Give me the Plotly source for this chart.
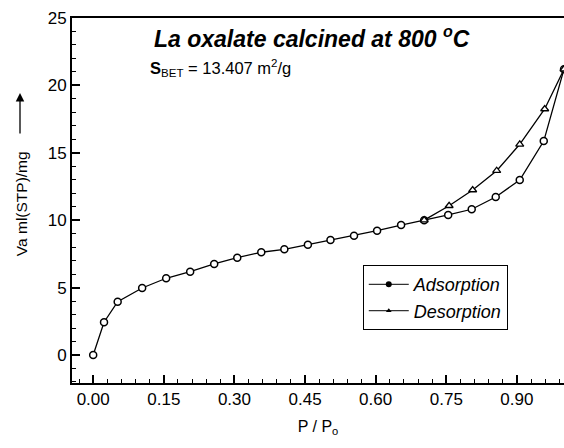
import plotly.graph_objects as go

# Data
ads_x = [0.0, 0.023, 0.052, 0.104, 0.155, 0.206, 0.257, 0.306, 0.357, 0.406,
         0.456, 0.504, 0.554, 0.603, 0.654, 0.703, 0.754, 0.804, 0.855, 0.906,
         0.957, 1.0]
ads_y = [0.0, 2.43, 3.95, 4.97, 5.69, 6.18, 6.75, 7.22, 7.62, 7.84,
         8.18, 8.53, 8.85, 9.22, 9.64, 10.0, 10.39, 10.81, 11.72, 12.98,
         15.87, 21.2]
des_x = [0.703, 0.756, 0.806, 0.857, 0.906, 0.959, 1.0]
des_y = [10.0, 11.07, 12.24, 13.67, 15.63, 18.25, 21.2]

x_ticks = [0.0, 0.15, 0.30, 0.45, 0.60, 0.75, 0.90]
x_labels = ["0.00", "0.15", "0.30", "0.45", "0.60", "0.75", "0.90"]
y_ticks = [0, 5, 10, 15, 20, 25]

FONT = "Arial, Liberation Sans, sans-serif"

fig = go.Figure()
fig.add_trace(go.Scatter(
    x=ads_x, y=ads_y, mode="lines+markers", showlegend=False,
    line=dict(color="black", width=1.3),
    marker=dict(symbol="circle", size=7, color="white",
                line=dict(color="black", width=1.5)),
    cliponaxis=True,
))
fig.add_trace(go.Scatter(
    x=des_x, y=des_y, mode="lines+markers", showlegend=False,
    line=dict(color="black", width=1.3),
    marker=dict(symbol="triangle-up", size=7, color="white",
                line=dict(color="black", width=1.3)),
    cliponaxis=True,
))
# legend entries (legend shows filled small symbols)
fig.add_trace(go.Scatter(
    x=[None], y=[None], mode="lines+markers", name="Adsorption",
    line=dict(color="black", width=1),
    marker=dict(symbol="circle", size=6, color="black"),
))
fig.add_trace(go.Scatter(
    x=[None], y=[None], mode="lines+markers", name="Desorption",
    line=dict(color="black", width=1),
    marker=dict(symbol="triangle-up", size=5, color="black"),
))

fig.update_layout(
    width=564, height=448,
    margin=dict(l=72, r=0, t=18, b=65),
    paper_bgcolor="white", plot_bgcolor="white",
    font=dict(family=FONT, size=16, color="black"),
    showlegend=True,
    legend=dict(x=0.591, y=0.323, xanchor="left", yanchor="top",
                bordercolor="black", borderwidth=1, bgcolor="white",
                font=dict(family=FONT, size=18, style="italic"),
                tracegroupgap=0, itemwidth=40),
    xaxis=dict(range=[-0.045, 1.0], tickvals=x_ticks, ticktext=x_labels,
               ticks="inside", ticklen=8, tickwidth=1.5, tickcolor="black",
               minor=dict(dtick=0.03, tick0=0, ticks="inside", ticklen=4,
                          tickwidth=1, tickcolor="black"),
               showline=True, linecolor="black", linewidth=2, mirror=True,
               showgrid=False, zeroline=False,
               tickfont=dict(size=17),
               title=dict(text="P / P<sub>o</sub>", font=dict(size=16),
                          standoff=12)),
    yaxis=dict(range=[-2.08, 25], tickvals=y_ticks,
               ticks="inside", ticklen=8, tickwidth=1.5, tickcolor="black",
               minor=dict(dtick=1, tick0=0, ticks="inside", ticklen=4,
                          tickwidth=1, tickcolor="black"),
               showline=True, linecolor="black", linewidth=2, mirror=False,
               showgrid=False, zeroline=False,
               tickfont=dict(size=17)),
)

fig.add_annotation(
    xref="paper", yref="paper", x=0.163, y=(383 - 37) / 365, xanchor="left",
    yanchor="middle", showarrow=False,
    text="<b><i>La oxalate calcined at 800 <sup>o</sup>C</i></b>",
    font=dict(family=FONT, size=23, color="black"),
)
fig.add_annotation(
    xref="paper", yref="paper", x=0.155, y=(383 - 68) / 365, xanchor="left",
    yanchor="middle", showarrow=False,
    text="<b>S</b><sub>BET</sub> = 13.407 m<sup>2</sup>/g",
    font=dict(family=FONT, size=16.5, color="black"),
)
fig.add_annotation(
    xref="paper", yref="paper", x=(21 - 72) / 492, y=0.490, xanchor="center",
    yanchor="middle", showarrow=False, textangle=-90,
    text="Va ml(STP)/mg",
    font=dict(family=FONT, size=15.5, color="black"),
)
# upward arrow next to the y-axis title
fig.add_annotation(
    xref="paper", yref="paper", x=(20 - 72) / 492, y=(383 - 93) / 365,
    ax=0, ay=42, axref="pixel", ayref="pixel",
    text="", showarrow=True, arrowhead=2, arrowsize=1.3, arrowwidth=1.3,
    arrowcolor="black",
)

fig.write_html("out.html")
